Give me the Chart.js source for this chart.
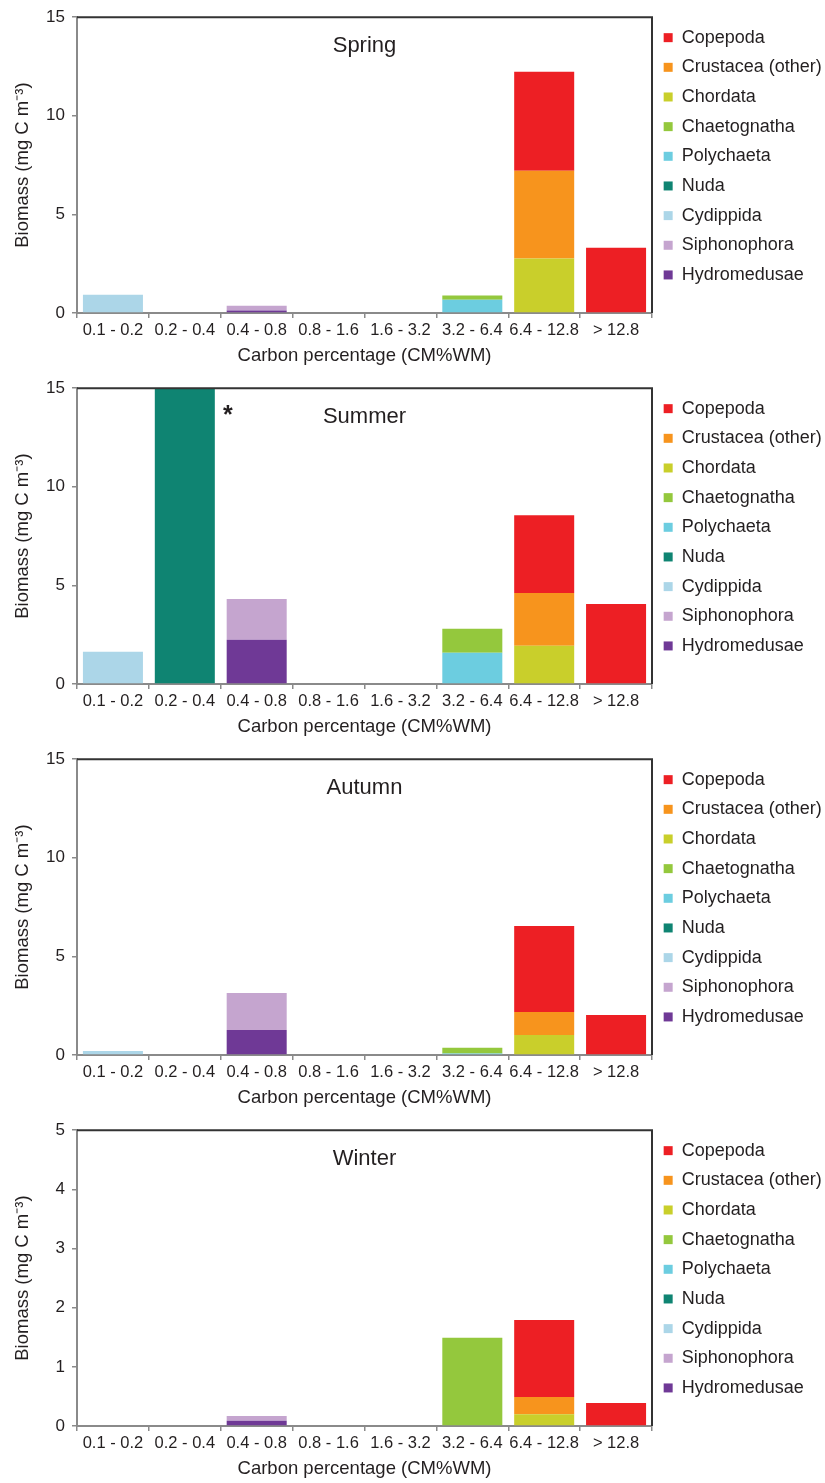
<!DOCTYPE html>
<html>
<head>
<meta charset="utf-8">
<script src="https://cdn.jsdelivr.net/npm/chart.js@4.4.1/dist/chart.umd.min.js"></script>
<style>
  html, body { margin: 0; padding: 0; background: #fff; overflow: hidden; }
  canvas { display: block; }
</style>
</head>
<body>
<canvas id="spring" width="825" height="371"></canvas>
<canvas id="summer" width="825" height="371"></canvas>
<canvas id="autumn" width="825" height="371"></canvas>
<canvas id="winter" width="825" height="371"></canvas>
<script>
// size classes on the x axis
const categories = ['0.1 - 0.2', '0.2 - 0.4', '0.4 - 0.8', '0.8 - 1.6', '1.6 - 3.2', '3.2 - 6.4', '6.4 - 12.8', '> 12.8'];

// stacking order, bottom to top
const taxa = ['Hydromedusae', 'Siphonophora', 'Cydippida', 'Nuda', 'Polychaeta', 'Chaetognatha', 'Chordata', 'Crustacea (other)', 'Copepoda'];
const taxaColors = ['#6f3996', '#c5a5cf', '#acd6e8', '#0f8472', '#6ccde0', '#94c83d', '#c9cf2b', '#f7941d', '#ed1f24'];

// biomass, mg C m-3, one row per taxon (same order as taxa)
const spring = [
  [0, 0, 0.13, 0, 0, 0, 0, 0],
  [0, 0, 0.24, 0, 0, 0, 0, 0],
  [0.93, 0, 0, 0, 0, 0, 0, 0],
  [0, 0, 0, 0, 0, 0, 0, 0],
  [0, 0, 0, 0, 0, 0.67, 0, 0],
  [0, 0, 0, 0, 0, 0.22, 0, 0],
  [0, 0, 0, 0, 0, 0, 2.77, 0],
  [0, 0, 0, 0, 0, 0, 4.44, 0],
  [0, 0, 0, 0, 0, 0, 5.02, 3.31]
];
const summer = [
  [0, 0, 2.24, 0, 0, 0, 0, 0],
  [0, 0, 2.07, 0, 0, 0, 0, 0],
  [1.63, 0, 0, 0, 0, 0, 0, 0],
  [0, 15, 0, 0, 0, 0, 0, 0],
  [0, 0, 0, 0, 0, 1.58, 0, 0],
  [0, 0, 0, 0, 0, 1.22, 0, 0],
  [0, 0, 0, 0, 0, 0, 1.94, 0],
  [0, 0, 0, 0, 0, 0, 2.68, 0],
  [0, 0, 0, 0, 0, 0, 3.94, 4.06]
];
const autumn = [
  [0, 0, 1.27, 0, 0, 0, 0, 0],
  [0, 0, 1.87, 0, 0, 0, 0, 0],
  [0.2, 0, 0, 0, 0, 0, 0, 0],
  [0, 0, 0, 0, 0, 0, 0, 0],
  [0, 0, 0, 0, 0, 0.08, 0, 0],
  [0, 0, 0, 0, 0, 0.29, 0, 0],
  [0, 0, 0, 0, 0, 0, 1.01, 0],
  [0, 0, 0, 0, 0, 0, 1.17, 0],
  [0, 0, 0, 0, 0, 0, 4.36, 2.03]
];
const winter = [
  [0, 0, 0.09, 0, 0, 0, 0, 0],
  [0, 0, 0.08, 0, 0, 0, 0, 0],
  [0, 0, 0, 0, 0, 0, 0, 0],
  [0, 0, 0, 0, 0, 0, 0, 0],
  [0, 0, 0, 0, 0, 0, 0, 0],
  [0, 0, 0, 0, 0, 1.49, 0, 0],
  [0, 0, 0, 0, 0, 0, 0.2, 0],
  [0, 0, 0, 0, 0, 0, 0.29, 0],
  [0, 0, 0, 0, 0, 0, 1.30, 0.39]
];

const ticks15 = [0, 5, 10, 15];
const ticks5 = [0, 1, 2, 3, 4, 5];

const FONT = '"Liberation Sans", Arial, Helvetica, sans-serif';
const TEXT = '#231f20';
const AXIS = '#8a8a8a';

// frame (top/right), season name and the off-scale star
const panelDecor = {
  id: 'panelDecor',
  afterDraw(chart, args, opts) {
    const ctx = chart.ctx;
    const a = chart.chartArea;
    ctx.save();
    ctx.strokeStyle = '#333333';
    ctx.lineWidth = 2;
    ctx.beginPath();
    ctx.moveTo(a.left, a.top);
    ctx.lineTo(a.right, a.top);
    ctx.lineTo(a.right, a.bottom);
    ctx.stroke();
    ctx.fillStyle = TEXT;
    ctx.font = '22px ' + FONT;
    ctx.textAlign = 'center';
    ctx.textBaseline = 'alphabetic';
    ctx.fillText(opts.season, (a.left + a.right) / 2, a.top + 35);
    if (opts.star != null) {
      const x = chart.scales.x.getPixelForValue(opts.star) + 43;
      ctx.font = 'bold 25px ' + FONT;
      ctx.fillText('*', x, a.top + 35);
    }
    ctx.restore();
  }
};

function makeChart(id, season, rows, yTicks, star) {
  const datasets = taxa.map((name, i) => ({
    label: name,
    data: rows[i],
    backgroundColor: taxaColors[i],
    borderWidth: 0
  }));
  const yMax = yTicks[yTicks.length - 1];
  return new Chart(document.getElementById(id).getContext('2d'), {
    type: 'bar',
    data: { labels: categories, datasets: datasets },
    plugins: [panelDecor],
    options: {
      responsive: false,
      animation: false,
      datasets: { bar: { categoryPercentage: 1, barPercentage: 0.835 } },
      layout: { padding: { top: 17, left: 0, right: 0, bottom: 0 } },
      scales: {
        x: {
          stacked: true,
          z: 1,
          grid: { display: true, drawOnChartArea: false, offset: true, tickLength: 5, color: AXIS, lineWidth: 1.5 },
          border: { display: true, color: AXIS, width: 2 },
          ticks: { color: TEXT, font: { family: FONT, size: 16.5 }, padding: 3, maxRotation: 0, autoSkip: false },
          title: { display: true, text: 'Carbon percentage (CM%WM)', color: TEXT, font: { family: FONT, size: 18.5 }, padding: { top: 0, bottom: 4 } },
          afterFit(scale) { scale.height = 58; }
        },
        y: {
          stacked: true,
          min: 0,
          max: yMax,
          z: 1,
          grid: { display: true, drawOnChartArea: false, tickLength: 5, color: AXIS, lineWidth: 1.5 },
          border: { display: true, color: AXIS, width: 2 },
          ticks: { stepSize: yTicks[1] - yTicks[0], color: TEXT, font: { family: FONT, size: 17 }, padding: 7 },
          title: { display: true, text: 'Biomass (mg C m\u207B\u00B3)', color: TEXT, font: { family: FONT, size: 18.5 }, padding: { top: 12, bottom: 0 } },
          afterFit(scale) { scale.width = 77; }
        }
      },
      plugins: {
        tooltip: { enabled: false },
        panelDecor: { season: season, star: star },
        legend: {
          position: 'right',
          align: 'start',
          reverse: true,
          maxWidth: 173,
          labels: {
            boxWidth: 9,
            boxHeight: 9,
            padding: 11.66,
            color: TEXT,
            font: { family: FONT, size: 18 }
          }
        }
      }
    }
  });
}

makeChart('spring', 'Spring', spring, ticks15, null);
makeChart('summer', 'Summer', summer, ticks15, 1);
makeChart('autumn', 'Autumn', autumn, ticks15, null);
makeChart('winter', 'Winter', winter, ticks5, null);
</script>
</body>
</html>
